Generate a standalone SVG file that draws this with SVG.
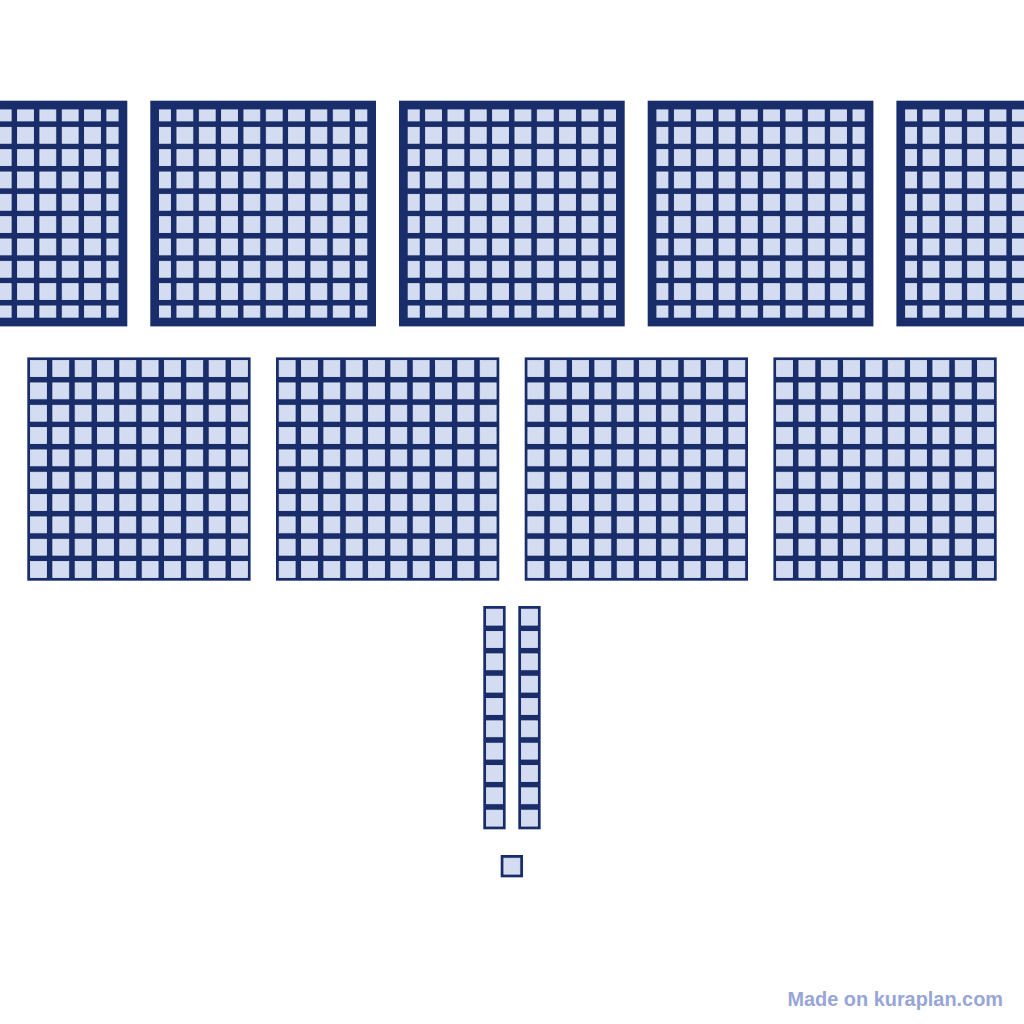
<svg xmlns="http://www.w3.org/2000/svg" xmlns:xlink="http://www.w3.org/1999/xlink" width="1024" height="1024" viewBox="0 0 1024 1024">
  <style>
    .dk { fill: #1a2d6b; }
    .lt { fill: #d3dcf0; stroke: #e2e8f6; stroke-width: 0.8; }
    .rim { fill: none; stroke: #1a2d6b; stroke-width: 8.7; }
    .wm { font-family: "Liberation Sans", Arial, sans-serif; font-weight: bold; font-size: 19.9px; fill: #97a6d6; }
  </style>
  <defs>
    <rect id="cell" x="3.2" y="3.2" width="15.93" height="15.93" class="lt"/>
    <g id="cellrow">
      <use xlink:href="#cell" x="0"/>
      <use xlink:href="#cell" x="22.33"/>
      <use xlink:href="#cell" x="44.66"/>
      <use xlink:href="#cell" x="66.99"/>
      <use xlink:href="#cell" x="89.32"/>
      <use xlink:href="#cell" x="111.65"/>
      <use xlink:href="#cell" x="133.98"/>
      <use xlink:href="#cell" x="156.31"/>
      <use xlink:href="#cell" x="178.64"/>
      <use xlink:href="#cell" x="200.97"/>
    </g>
    <g id="cellcol">
      <use xlink:href="#cell" y="0"/>
      <use xlink:href="#cell" y="22.33"/>
      <use xlink:href="#cell" y="44.66"/>
      <use xlink:href="#cell" y="66.99"/>
      <use xlink:href="#cell" y="89.32"/>
      <use xlink:href="#cell" y="111.65"/>
      <use xlink:href="#cell" y="133.98"/>
      <use xlink:href="#cell" y="156.31"/>
      <use xlink:href="#cell" y="178.64"/>
      <use xlink:href="#cell" y="200.97"/>
    </g>
    <g id="grid">
      <rect x="0" y="0" width="223.3" height="223.3" class="dk"/>
      <use xlink:href="#cellrow" y="0"/>
      <use xlink:href="#cellrow" y="22.33"/>
      <use xlink:href="#cellrow" y="44.66"/>
      <use xlink:href="#cellrow" y="66.99"/>
      <use xlink:href="#cellrow" y="89.32"/>
      <use xlink:href="#cellrow" y="111.65"/>
      <use xlink:href="#cellrow" y="133.98"/>
      <use xlink:href="#cellrow" y="156.31"/>
      <use xlink:href="#cellrow" y="178.64"/>
      <use xlink:href="#cellrow" y="200.97"/>
    </g>
    <g id="flatTop">
      <use xlink:href="#grid" x="1.1" y="1.1"/>
      <rect x="4.35" y="4.35" width="217" height="217" class="rim"/>
    </g>
    <g id="rod">
      <rect x="0" y="0" width="22.33" height="223.3" class="dk"/>
      <use xlink:href="#cellcol"/>
    </g>
  </defs>

  <rect width="1024" height="1024" fill="#ffffff"/>

  <g id="hundreds-top">
    <g id="flat-1"><use xlink:href="#flatTop" x="-98.4" y="100.7"/></g>
    <g id="flat-2"><use xlink:href="#flatTop" x="150.3" y="100.7"/></g>
    <g id="flat-3"><use xlink:href="#flatTop" x="399" y="100.7"/></g>
    <g id="flat-4"><use xlink:href="#flatTop" x="647.7" y="100.7"/></g>
    <g id="flat-5"><use xlink:href="#flatTop" x="896.4" y="100.7"/></g>
  </g>

  <g id="hundreds-bottom">
    <g id="flat-6"><use xlink:href="#grid" x="27.3" y="357.4"/></g>
    <g id="flat-7"><use xlink:href="#grid" x="276" y="357.4"/></g>
    <g id="flat-8"><use xlink:href="#grid" x="524.7" y="357.4"/></g>
    <g id="flat-9"><use xlink:href="#grid" x="773.4" y="357.4"/></g>
  </g>

  <g id="tens">
    <g id="rod-1"><use xlink:href="#rod" x="483.3" y="606"/></g>
    <g id="rod-2"><use xlink:href="#rod" x="518.3" y="606"/></g>
  </g>

  <g id="ones">
    <g id="unit-1">
      <rect x="500.7" y="855" width="22.33" height="22.33" class="dk"/>
      <use xlink:href="#cell" x="500.7" y="855"/>
    </g>
  </g>

  <g id="connectors"/>

  <text class="wm" x="1003" y="1006" text-anchor="end">Made on kuraplan.com</text>
</svg>
